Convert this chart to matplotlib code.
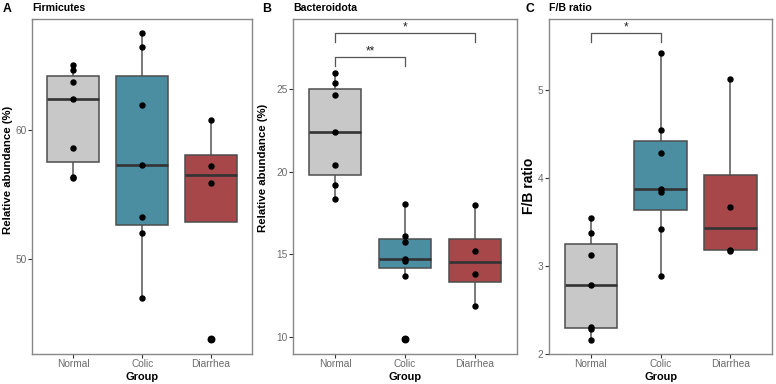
import matplotlib
matplotlib.use("Agg")
import matplotlib.pyplot as plt
import numpy as np

plt.rcParams['font.family'] = ['Liberation Sans', 'DejaVu Sans']

groups = ['Normal', 'Colic', 'Diarrhea']
colors = ['#C8C8C8', '#4B8EA2', '#A8474A']

# Firmicutes relative abundance (%)
firm_normal = [65.05, 64.7, 63.76, 62.4, 58.65, 56.4, 56.27]
firm_colic = [67.54, 66.48, 62.0, 57.3, 53.24, 52.0, 46.94]
firm_diarrhea = [60.78, 57.23, 55.9, 43.76]

# Bacteroidota relative abundance (%)
bact_normal = [25.99, 25.40, 24.64, 22.43, 20.43, 19.18, 18.37]
bact_colic = [18.05, 16.11, 15.73, 14.72, 14.62, 13.70, 9.84]
bact_diarrhea = [17.99, 15.22, 13.78, 11.86]

# F/B ratio
fb_normal = [3.545, 3.375, 3.125, 2.784, 2.307, 2.288, 2.167]
fb_colic = [5.424, 4.549, 4.292, 3.875, 3.848, 3.428, 2.890]
fb_diarrhea = [5.129, 3.678, 3.185, 3.175]

panels = [
    ('A', 'Firmicutes', 'Relative abundance (%)', [firm_normal, firm_colic, firm_diarrhea],
     (42.6, 68.65), [50, 60], []),
    ('B', 'Bacteroidota', 'Relative abundance (%)', [bact_normal, bact_colic, bact_diarrhea],
     (8.93, 29.27), [10, 15, 20, 25],
     [(1, 2, 26.94, 26.41, '**'), (1, 3, 28.4, 27.85, '*')]),
    ('C', 'F/B ratio', 'F/B ratio', [fb_normal, fb_colic, fb_diarrhea],
     (2.0, 5.81), [2, 3, 4, 5], [(1, 2, 5.648, 5.545, '*')]),
]

W, H = 776, 384
lefts = [32, 293, 549]
rights = [252.3, 516.7, 772.3]
ax_top, ax_bot = 19, 354.3
ylab_x = [13.5, 268, 536]
ylab_y = [170, 167.5, 185.5]
ylab_size = [8.2, 8.2, 10]
letter_x = [2.7, 261.7, 526]

fig = plt.figure(figsize=(W / 100, H / 100), dpi=100)

for i, (letter, title, ylab, data, ylim, yticks, sig) in enumerate(panels):
    wpx = rights[i] - lefts[i]
    hpx = ax_bot - ax_top
    ax = fig.add_axes([lefts[i] / W, 1 - ax_bot / H, wpx / W, hpx / H])
    bp = ax.boxplot(data, positions=[1, 2, 3], widths=0.75, patch_artist=True,
                    showcaps=False,
                    flierprops=dict(marker='o', markerfacecolor='black', markeredgecolor='black',
                                    markersize=4.7),
                    medianprops=dict(color='#333333', linewidth=1.9),
                    whiskerprops=dict(color='#555555', linewidth=1.1),
                    boxprops=dict(edgecolor='#4d4d4d', linewidth=1.1))
    for patch, c in zip(bp['boxes'], colors):
        patch.set_facecolor(c)
        patch.set_zorder(3)
    for w in bp['whiskers']:
        w.set_zorder(2)
    for m in bp['medians']:
        m.set_zorder(4)
    for j, vals in enumerate(data):
        ax.plot([j + 1] * len(vals), vals, 'o', color='black', markersize=3.6, zorder=5)

    for x1, x2, ytop, yend, lab in sig:
        ax.plot([x1, x1, x2, x2], [yend, ytop, ytop, yend], color='#555555', linewidth=0.9, zorder=5)
        ax.text((x1 + x2) / 2, ytop, lab, ha='center', va='bottom', fontsize=8.5, color='#222222')

    ax.set_xlim(0.4, 3.6)
    ax.set_ylim(*ylim)
    ax.set_yticks(yticks)
    ax.set_xticks([1, 2, 3])
    ax.set_xticklabels(groups)
    ax.tick_params(colors='#333333', labelcolor='#6b6b6b', labelsize=7.3, length=2.8, width=0.8)
    ax.tick_params(axis='x', pad=0.8)
    ax.tick_params(axis='y', pad=1.2)
    for sp in ax.spines.values():
        sp.set_color('#888888')
        sp.set_linewidth(1)

    ax.set_xlabel('Group', fontsize=7.9, fontweight='bold')
    ax.xaxis.set_label_coords(0.5, (ax_bot - 371.9) / hpx)
    ax.xaxis.label.set_va('top')
    ax.set_ylabel(ylab, fontsize=ylab_size[i], fontweight='bold')
    ax.yaxis.set_label_coords((ylab_x[i] - lefts[i]) / wpx, (ax_bot - ylab_y[i]) / hpx)

    fig.text(lefts[i] / W, 1 - 10.7 / H, title, fontsize=7.6, fontweight='bold', va='baseline', ha='left')
    fig.text(letter_x[i] / W, 1 - 11.7 / H, letter, fontsize=8.8, fontweight='bold', va='baseline', ha='left')

fig.savefig('out.png', dpi=100)
